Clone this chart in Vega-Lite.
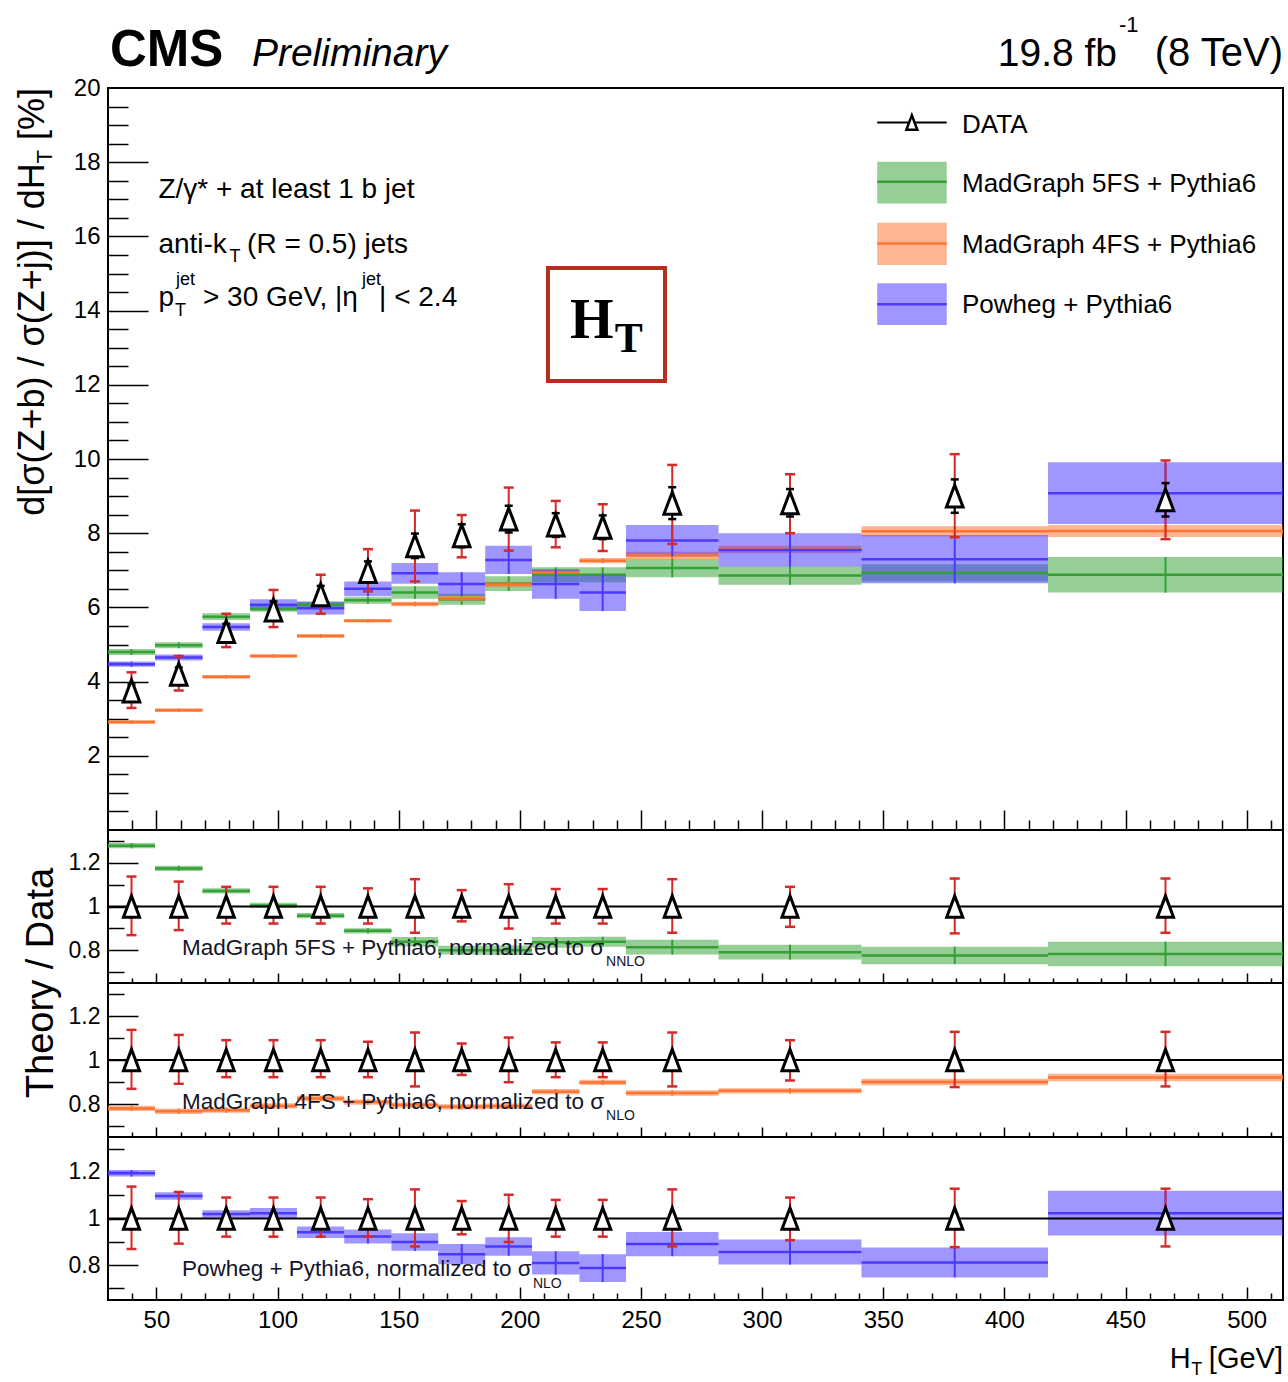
{
  "$schema": "https://vega.github.io/schema/vega-lite/v6.json",
  "background": "white",
  "padding": {"left": 14, "top": 13, "right": 4, "bottom": 2},
  "config": {
    "view": {"stroke": "black", "strokeWidth": 2},
    "axis": {"domain": false, "grid": false, "tickColor": "black", "tickWidth": 1.5, "labelFont": "Liberation Sans", "labelFontSize": 24, "labelColor": "black"}
  },
  "datasets": {
    "dat": [
      {"xc": 39.7, "v": 3.75, "lo": 3.29, "hi": 4.25, "slo": 3.58, "shi": 3.92},
      {"xc": 59.2, "v": 4.20, "lo": 3.76, "hi": 4.69, "slo": 4.02, "shi": 4.38},
      {"xc": 78.8, "v": 5.35, "lo": 4.93, "hi": 5.83, "slo": 5.14, "shi": 5.56},
      {"xc": 98.3, "v": 5.93, "lo": 5.47, "hi": 6.47, "slo": 5.70, "shi": 6.16},
      {"xc": 117.8, "v": 6.34, "lo": 5.83, "hi": 6.88, "slo": 6.10, "shi": 6.58},
      {"xc": 137.3, "v": 6.97, "lo": 6.43, "hi": 7.57, "slo": 6.70, "shi": 7.24},
      {"xc": 156.7, "v": 7.66, "lo": 6.70, "hi": 8.61, "slo": 7.33, "shi": 7.99},
      {"xc": 176.0, "v": 7.93, "lo": 7.35, "hi": 8.49, "slo": 7.62, "shi": 8.24},
      {"xc": 195.4, "v": 8.38, "lo": 7.53, "hi": 9.23, "slo": 8.02, "shi": 8.74},
      {"xc": 214.8, "v": 8.22, "lo": 7.62, "hi": 8.87, "slo": 7.90, "shi": 8.54},
      {"xc": 234.2, "v": 8.16, "lo": 7.52, "hi": 8.78, "slo": 7.84, "shi": 8.48},
      {"xc": 262.9, "v": 8.81, "lo": 7.71, "hi": 9.84, "slo": 8.38, "shi": 9.24},
      {"xc": 311.5, "v": 8.82, "lo": 8.00, "hi": 9.59, "slo": 8.45, "shi": 9.19},
      {"xc": 379.5, "v": 9.00, "lo": 7.89, "hi": 10.13, "slo": 8.55, "shi": 9.45},
      {"xc": 466.5, "v": 8.90, "lo": 7.84, "hi": 9.96, "slo": 8.45, "shi": 9.35}
    ],
    "rdat": [
      {"xc": 39.7, "v": 1, "lo": 0.869, "hi": 1.137, "slo": 0.953, "shi": 1.047},
      {"xc": 59.2, "v": 1, "lo": 0.892, "hi": 1.114, "slo": 0.957, "shi": 1.043},
      {"xc": 78.8, "v": 1, "lo": 0.922, "hi": 1.090, "slo": 0.961, "shi": 1.039},
      {"xc": 98.3, "v": 1, "lo": 0.922, "hi": 1.090, "slo": 0.961, "shi": 1.039},
      {"xc": 117.8, "v": 1, "lo": 0.922, "hi": 1.090, "slo": 0.962, "shi": 1.038},
      {"xc": 137.3, "v": 1, "lo": 0.922, "hi": 1.083, "slo": 0.961, "shi": 1.039},
      {"xc": 156.7, "v": 1, "lo": 0.880, "hi": 1.125, "slo": 0.957, "shi": 1.043},
      {"xc": 176.0, "v": 1, "lo": 0.932, "hi": 1.075, "slo": 0.961, "shi": 1.039},
      {"xc": 195.4, "v": 1, "lo": 0.899, "hi": 1.102, "slo": 0.957, "shi": 1.043},
      {"xc": 214.8, "v": 1, "lo": 0.922, "hi": 1.080, "slo": 0.961, "shi": 1.039},
      {"xc": 234.2, "v": 1, "lo": 0.922, "hi": 1.080, "slo": 0.961, "shi": 1.039},
      {"xc": 262.9, "v": 1, "lo": 0.880, "hi": 1.125, "slo": 0.951, "shi": 1.049},
      {"xc": 311.5, "v": 1, "lo": 0.907, "hi": 1.090, "slo": 0.958, "shi": 1.042},
      {"xc": 379.5, "v": 1, "lo": 0.877, "hi": 1.128, "slo": 0.950, "shi": 1.050},
      {"xc": 466.5, "v": 1, "lo": 0.880, "hi": 1.128, "slo": 0.949, "shi": 1.051}
    ],
    "mod": [
      {"m": "5FS", "x1": 30, "x2": 49.4, "xc": 39.7, "v": 4.80, "lo": 4.72, "hi": 4.88},
      {"m": "5FS", "x1": 49.4, "x2": 69, "xc": 59.2, "v": 4.98, "lo": 4.90, "hi": 5.06},
      {"m": "5FS", "x1": 69, "x2": 88.6, "xc": 78.8, "v": 5.75, "lo": 5.66, "hi": 5.84},
      {"m": "5FS", "x1": 88.6, "x2": 108, "xc": 98.3, "v": 5.96, "lo": 5.88, "hi": 6.04},
      {"m": "5FS", "x1": 108, "x2": 127.5, "xc": 117.8, "v": 6.07, "lo": 5.98, "hi": 6.16},
      {"m": "5FS", "x1": 127.5, "x2": 147, "xc": 137.3, "v": 6.19, "lo": 6.10, "hi": 6.28},
      {"m": "5FS", "x1": 147, "x2": 166.3, "xc": 156.7, "v": 6.40, "lo": 6.23, "hi": 6.57},
      {"m": "5FS", "x1": 166.3, "x2": 185.7, "xc": 176.0, "v": 6.22, "lo": 6.07, "hi": 6.37},
      {"m": "5FS", "x1": 185.7, "x2": 205, "xc": 195.4, "v": 6.64, "lo": 6.44, "hi": 6.84},
      {"m": "5FS", "x1": 205, "x2": 224.6, "xc": 214.8, "v": 6.88, "lo": 6.68, "hi": 7.08},
      {"m": "5FS", "x1": 224.6, "x2": 243.8, "xc": 234.2, "v": 6.88, "lo": 6.68, "hi": 7.08},
      {"m": "5FS", "x1": 243.8, "x2": 282, "xc": 262.9, "v": 7.06, "lo": 6.81, "hi": 7.31},
      {"m": "5FS", "x1": 282, "x2": 341, "xc": 311.5, "v": 6.86, "lo": 6.61, "hi": 7.11},
      {"m": "5FS", "x1": 341, "x2": 418, "xc": 379.5, "v": 6.93, "lo": 6.70, "hi": 7.16},
      {"m": "5FS", "x1": 418, "x2": 515, "xc": 466.5, "v": 6.88, "lo": 6.40, "hi": 7.36},
      {"m": "4FS", "x1": 30, "x2": 49.4, "xc": 39.7, "v": 2.91, "lo": 2.86, "hi": 2.96},
      {"m": "4FS", "x1": 49.4, "x2": 69, "xc": 59.2, "v": 3.23, "lo": 3.18, "hi": 3.28},
      {"m": "4FS", "x1": 69, "x2": 88.6, "xc": 78.8, "v": 4.13, "lo": 4.08, "hi": 4.18},
      {"m": "4FS", "x1": 88.6, "x2": 108, "xc": 98.3, "v": 4.69, "lo": 4.64, "hi": 4.74},
      {"m": "4FS", "x1": 108, "x2": 127.5, "xc": 117.8, "v": 5.23, "lo": 5.18, "hi": 5.28},
      {"m": "4FS", "x1": 127.5, "x2": 147, "xc": 137.3, "v": 5.64, "lo": 5.59, "hi": 5.69},
      {"m": "4FS", "x1": 147, "x2": 166.3, "xc": 156.7, "v": 6.09, "lo": 6.03, "hi": 6.15},
      {"m": "4FS", "x1": 166.3, "x2": 185.7, "xc": 176.0, "v": 6.24, "lo": 6.17, "hi": 6.31},
      {"m": "4FS", "x1": 185.7, "x2": 205, "xc": 195.4, "v": 6.62, "lo": 6.55, "hi": 6.69},
      {"m": "4FS", "x1": 205, "x2": 224.6, "xc": 214.8, "v": 6.94, "lo": 6.86, "hi": 7.02},
      {"m": "4FS", "x1": 224.6, "x2": 243.8, "xc": 234.2, "v": 7.26, "lo": 7.19, "hi": 7.33},
      {"m": "4FS", "x1": 243.8, "x2": 282, "xc": 262.9, "v": 7.40, "lo": 7.30, "hi": 7.50},
      {"m": "4FS", "x1": 282, "x2": 341, "xc": 311.5, "v": 7.56, "lo": 7.46, "hi": 7.66},
      {"m": "4FS", "x1": 341, "x2": 418, "xc": 379.5, "v": 8.05, "lo": 7.91, "hi": 8.19},
      {"m": "4FS", "x1": 418, "x2": 515, "xc": 466.5, "v": 8.06, "lo": 7.90, "hi": 8.22},
      {"m": "Powheg", "x1": 30, "x2": 49.4, "xc": 39.7, "v": 4.47, "lo": 4.40, "hi": 4.54},
      {"m": "Powheg", "x1": 49.4, "x2": 69, "xc": 59.2, "v": 4.65, "lo": 4.57, "hi": 4.73},
      {"m": "Powheg", "x1": 69, "x2": 88.6, "xc": 78.8, "v": 5.47, "lo": 5.37, "hi": 5.57},
      {"m": "Powheg", "x1": 88.6, "x2": 108, "xc": 98.3, "v": 6.07, "lo": 5.92, "hi": 6.22},
      {"m": "Powheg", "x1": 108, "x2": 127.5, "xc": 117.8, "v": 5.98, "lo": 5.81, "hi": 6.15},
      {"m": "Powheg", "x1": 127.5, "x2": 147, "xc": 137.3, "v": 6.50, "lo": 6.30, "hi": 6.70},
      {"m": "Powheg", "x1": 147, "x2": 166.3, "xc": 156.7, "v": 6.92, "lo": 6.64, "hi": 7.20},
      {"m": "Powheg", "x1": 166.3, "x2": 185.7, "xc": 176.0, "v": 6.63, "lo": 6.31, "hi": 6.95},
      {"m": "Powheg", "x1": 185.7, "x2": 205, "xc": 195.4, "v": 7.28, "lo": 6.90, "hi": 7.66},
      {"m": "Powheg", "x1": 205, "x2": 224.6, "xc": 214.8, "v": 6.63, "lo": 6.23, "hi": 7.03},
      {"m": "Powheg", "x1": 224.6, "x2": 243.8, "xc": 234.2, "v": 6.40, "lo": 5.90, "hi": 6.90},
      {"m": "Powheg", "x1": 243.8, "x2": 282, "xc": 262.9, "v": 7.80, "lo": 7.38, "hi": 8.22},
      {"m": "Powheg", "x1": 282, "x2": 341, "xc": 311.5, "v": 7.55, "lo": 7.10, "hi": 8.00},
      {"m": "Powheg", "x1": 341, "x2": 418, "xc": 379.5, "v": 7.30, "lo": 6.65, "hi": 7.95},
      {"m": "Powheg", "x1": 418, "x2": 515, "xc": 466.5, "v": 9.08, "lo": 8.25, "hi": 9.91}
    ],
    "rmod": [
      {"m": "5FS", "x1": 30, "x2": 49.4, "xc": 39.7, "v": 1.278, "lo": 1.266, "hi": 1.290},
      {"m": "5FS", "x1": 49.4, "x2": 69, "xc": 59.2, "v": 1.174, "lo": 1.162, "hi": 1.186},
      {"m": "5FS", "x1": 69, "x2": 88.6, "xc": 78.8, "v": 1.071, "lo": 1.059, "hi": 1.083},
      {"m": "5FS", "x1": 88.6, "x2": 108, "xc": 98.3, "v": 1.005, "lo": 0.993, "hi": 1.017},
      {"m": "5FS", "x1": 108, "x2": 127.5, "xc": 117.8, "v": 0.958, "lo": 0.946, "hi": 0.970},
      {"m": "5FS", "x1": 127.5, "x2": 147, "xc": 137.3, "v": 0.889, "lo": 0.877, "hi": 0.901},
      {"m": "5FS", "x1": 147, "x2": 166.3, "xc": 156.7, "v": 0.839, "lo": 0.817, "hi": 0.861},
      {"m": "5FS", "x1": 166.3, "x2": 185.7, "xc": 176.0, "v": 0.800, "lo": 0.780, "hi": 0.820},
      {"m": "5FS", "x1": 185.7, "x2": 205, "xc": 195.4, "v": 0.800, "lo": 0.778, "hi": 0.822},
      {"m": "5FS", "x1": 205, "x2": 224.6, "xc": 214.8, "v": 0.836, "lo": 0.811, "hi": 0.861},
      {"m": "5FS", "x1": 224.6, "x2": 243.8, "xc": 234.2, "v": 0.839, "lo": 0.816, "hi": 0.862},
      {"m": "5FS", "x1": 243.8, "x2": 282, "xc": 262.9, "v": 0.814, "lo": 0.780, "hi": 0.848},
      {"m": "5FS", "x1": 282, "x2": 341, "xc": 311.5, "v": 0.791, "lo": 0.757, "hi": 0.825},
      {"m": "5FS", "x1": 341, "x2": 418, "xc": 379.5, "v": 0.776, "lo": 0.736, "hi": 0.816},
      {"m": "5FS", "x1": 418, "x2": 515, "xc": 466.5, "v": 0.783, "lo": 0.727, "hi": 0.839},
      {"m": "4FS", "x1": 30, "x2": 49.4, "xc": 39.7, "v": 0.780, "lo": 0.768, "hi": 0.792},
      {"m": "4FS", "x1": 49.4, "x2": 69, "xc": 59.2, "v": 0.767, "lo": 0.755, "hi": 0.779},
      {"m": "4FS", "x1": 69, "x2": 88.6, "xc": 78.8, "v": 0.772, "lo": 0.760, "hi": 0.784},
      {"m": "4FS", "x1": 88.6, "x2": 108, "xc": 98.3, "v": 0.791, "lo": 0.779, "hi": 0.803},
      {"m": "4FS", "x1": 108, "x2": 127.5, "xc": 117.8, "v": 0.825, "lo": 0.813, "hi": 0.837},
      {"m": "4FS", "x1": 127.5, "x2": 147, "xc": 137.3, "v": 0.809, "lo": 0.797, "hi": 0.821},
      {"m": "4FS", "x1": 147, "x2": 166.3, "xc": 156.7, "v": 0.795, "lo": 0.783, "hi": 0.807},
      {"m": "4FS", "x1": 166.3, "x2": 185.7, "xc": 176.0, "v": 0.787, "lo": 0.775, "hi": 0.799},
      {"m": "4FS", "x1": 185.7, "x2": 205, "xc": 195.4, "v": 0.790, "lo": 0.778, "hi": 0.802},
      {"m": "4FS", "x1": 205, "x2": 224.6, "xc": 214.8, "v": 0.856, "lo": 0.844, "hi": 0.868},
      {"m": "4FS", "x1": 224.6, "x2": 243.8, "xc": 234.2, "v": 0.898, "lo": 0.886, "hi": 0.910},
      {"m": "4FS", "x1": 243.8, "x2": 282, "xc": 262.9, "v": 0.850, "lo": 0.838, "hi": 0.862},
      {"m": "4FS", "x1": 282, "x2": 341, "xc": 311.5, "v": 0.860, "lo": 0.848, "hi": 0.872},
      {"m": "4FS", "x1": 341, "x2": 418, "xc": 379.5, "v": 0.900, "lo": 0.885, "hi": 0.915},
      {"m": "4FS", "x1": 418, "x2": 515, "xc": 466.5, "v": 0.920, "lo": 0.903, "hi": 0.937},
      {"m": "Powheg", "x1": 30, "x2": 49.4, "xc": 39.7, "v": 1.194, "lo": 1.180, "hi": 1.208},
      {"m": "Powheg", "x1": 49.4, "x2": 69, "xc": 59.2, "v": 1.097, "lo": 1.081, "hi": 1.113},
      {"m": "Powheg", "x1": 69, "x2": 88.6, "xc": 78.8, "v": 1.019, "lo": 1.003, "hi": 1.035},
      {"m": "Powheg", "x1": 88.6, "x2": 108, "xc": 98.3, "v": 1.023, "lo": 1.001, "hi": 1.045},
      {"m": "Powheg", "x1": 108, "x2": 127.5, "xc": 117.8, "v": 0.941, "lo": 0.916, "hi": 0.966},
      {"m": "Powheg", "x1": 127.5, "x2": 147, "xc": 137.3, "v": 0.923, "lo": 0.893, "hi": 0.953},
      {"m": "Powheg", "x1": 147, "x2": 166.3, "xc": 156.7, "v": 0.899, "lo": 0.861, "hi": 0.937},
      {"m": "Powheg", "x1": 166.3, "x2": 185.7, "xc": 176.0, "v": 0.847, "lo": 0.804, "hi": 0.890},
      {"m": "Powheg", "x1": 185.7, "x2": 205, "xc": 195.4, "v": 0.880, "lo": 0.840, "hi": 0.920},
      {"m": "Powheg", "x1": 205, "x2": 224.6, "xc": 214.8, "v": 0.809, "lo": 0.759, "hi": 0.859},
      {"m": "Powheg", "x1": 224.6, "x2": 243.8, "xc": 234.2, "v": 0.787, "lo": 0.727, "hi": 0.847},
      {"m": "Powheg", "x1": 243.8, "x2": 282, "xc": 262.9, "v": 0.890, "lo": 0.838, "hi": 0.942},
      {"m": "Powheg", "x1": 282, "x2": 341, "xc": 311.5, "v": 0.856, "lo": 0.802, "hi": 0.910},
      {"m": "Powheg", "x1": 341, "x2": 418, "xc": 379.5, "v": 0.811, "lo": 0.747, "hi": 0.875},
      {"m": "Powheg", "x1": 418, "x2": 515, "xc": 466.5, "v": 1.023, "lo": 0.927, "hi": 1.119}
    ]
  },
  "vconcat": [
    {
      "width": 1175,
      "height": 742,
      "resolve": {"axis": {"x": "independent", "y": "independent"}},
      "layer": [
        {
          "data": {"name": "mod"},
          "mark": {"type": "rect", "opacity": 0.5},
          "encoding": {
            "x": {"field": "x1", "type": "quantitative", "scale": {"domain": [30, 515], "nice": false, "zero": false},
                  "axis": {"orient": "bottom", "title": null, "values": [50, 100, 150, 200, 250, 300, 350, 400, 450, 500], "labels": false, "tickSize": -20}},
            "x2": {"field": "x2"},
            "y": {"field": "lo", "type": "quantitative", "scale": {"domain": [0, 20], "nice": false, "zero": false},
                  "axis": {"orient": "left", "title": null, "values": [2, 4, 6, 8, 10, 12, 14, 16, 18, 20], "ticks": false, "tickSize": 0, "labelPadding": 8}},
            "y2": {"field": "hi"},
            "fill": {"field": "m", "type": "nominal", "scale": {"domain": ["5FS", "4FS", "Powheg"], "range": ["#2ca02c", "#ff6a28", "#4030ff"]}, "legend": null}
          }
        },
        {
          "data": {"name": "mod"},
          "mark": {"type": "rule", "strokeWidth": 2.5},
          "encoding": {
            "x": {"field": "x1", "type": "quantitative",
                  "axis": {"orient": "bottom", "title": null, "values": [40, 60, 70, 80, 90, 110, 120, 130, 140, 160, 170, 180, 190, 210, 220, 230, 240, 260, 270, 280, 290, 310, 320, 330, 340, 360, 370, 380, 390, 410, 420, 430, 440, 460, 470, 480, 490, 510], "labels": false, "tickSize": -10}},
            "x2": {"field": "x2"},
            "y": {"field": "v", "type": "quantitative",
                  "axis": {"orient": "left", "title": null, "values": [2, 4, 6, 8, 10, 12, 14, 16, 18], "labels": false, "tickSize": -40}},
            "stroke": {"field": "m", "type": "nominal", "scale": {"domain": ["5FS", "4FS", "Powheg"], "range": ["#35a035", "#ff7430", "#4a3aff"]}, "legend": null}
          }
        },
        {
          "data": {"name": "mod"},
          "mark": {"type": "rule", "strokeWidth": 2},
          "encoding": {
            "x": {"field": "xc", "type": "quantitative", "axis": null},
            "y": {"field": "lo", "type": "quantitative",
                  "axis": {"orient": "left", "title": null, "values": [0.5, 1, 1.5, 2.5, 3, 3.5, 4.5, 5, 5.5, 6.5, 7, 7.5, 8.5, 9, 9.5, 10.5, 11, 11.5, 12.5, 13, 13.5, 14.5, 15, 15.5, 16.5, 17, 17.5, 18.5, 19, 19.5], "labels": false, "tickSize": -20}},
            "y2": {"field": "hi"},
            "stroke": {"field": "m", "type": "nominal", "legend": null}
          }
        },
        {
          "data": {"name": "dat"},
          "mark": {"type": "rule", "color": "#d42a2a", "strokeWidth": 2},
          "encoding": {
            "x": {"field": "xc", "type": "quantitative", "axis": null},
            "y": {"field": "lo", "type": "quantitative", "axis": null},
            "y2": {"field": "hi"}
          }
        },
        {
          "data": {"name": "dat"},
          "transform": [{"fold": ["lo", "hi"], "as": ["end", "val"]}],
          "mark": {"type": "tick", "orient": "horizontal", "color": "#d42a2a", "opacity": 1, "size": 10, "thickness": 2.5},
          "encoding": {
            "x": {"field": "xc", "type": "quantitative", "axis": null},
            "y": {"field": "val", "type": "quantitative", "axis": null}
          }
        },
        {
          "data": {"name": "dat"},
          "mark": {"type": "rule", "color": "black", "strokeWidth": 2},
          "encoding": {
            "x": {"field": "xc", "type": "quantitative", "axis": null},
            "y": {"field": "slo", "type": "quantitative", "axis": null},
            "y2": {"field": "shi"}
          }
        },
        {
          "data": {"name": "dat"},
          "transform": [{"fold": ["slo", "shi"], "as": ["end", "val"]}],
          "mark": {"type": "tick", "orient": "horizontal", "color": "black", "opacity": 1, "size": 8, "thickness": 2.5},
          "encoding": {
            "x": {"field": "xc", "type": "quantitative", "axis": null},
            "y": {"field": "val", "type": "quantitative", "axis": null}
          }
        },
        {
          "data": {"name": "dat"},
          "mark": {"type": "point", "shape": "M0,-0.9L0.68,0.9L-0.68,0.9Z", "size": 600, "filled": true, "fill": "white", "stroke": "black", "strokeWidth": 3, "opacity": 1},
          "encoding": {
            "x": {"field": "xc", "type": "quantitative", "axis": null},
            "y": {"field": "v", "type": "quantitative", "axis": null}
          }
        },
        {
          "data": {"values": [{}]},
          "mark": {"type": "text", "text": "CMS", "font": "Liberation Sans", "fontWeight": "bold", "fontSize": 51, "align": "left", "baseline": "alphabetic"},
          "encoding": {"x": {"datum": 30.8, "type": "quantitative", "axis": null}, "y": {"datum": 20.59, "type": "quantitative", "axis": null}}
        },
        {
          "data": {"values": [{}]},
          "mark": {"type": "text", "text": "Preliminary", "font": "Liberation Sans", "fontStyle": "italic", "fontSize": 39, "align": "left", "baseline": "alphabetic"},
          "encoding": {"x": {"datum": 89.4, "type": "quantitative", "axis": null}, "y": {"datum": 20.59, "type": "quantitative", "axis": null}}
        },
        {
          "data": {"values": [{}]},
          "mark": {"type": "text", "text": "19.8 fb", "font": "Liberation Sans", "fontSize": 39, "align": "right", "baseline": "alphabetic"},
          "encoding": {"x": {"datum": 446.5, "type": "quantitative", "axis": null}, "y": {"datum": 20.59, "type": "quantitative", "axis": null}}
        },
        {
          "data": {"values": [{}]},
          "mark": {"type": "text", "text": "-1", "font": "Liberation Sans", "fontSize": 22, "align": "left", "baseline": "alphabetic"},
          "encoding": {"x": {"datum": 447.3, "type": "quantitative", "axis": null}, "y": {"datum": 21.5, "type": "quantitative", "axis": null}}
        },
        {
          "data": {"values": [{}]},
          "mark": {"type": "text", "text": "(8 TeV)", "font": "Liberation Sans", "fontSize": 40, "align": "right", "baseline": "alphabetic"},
          "encoding": {"x": {"datum": 515, "type": "quantitative", "axis": null}, "y": {"datum": 20.59, "type": "quantitative", "axis": null}}
        },
        {
          "data": {"values": [{}]},
          "mark": {"type": "text", "text": "Z/γ* + at least 1 b jet", "font": "Liberation Sans", "fontSize": 28, "align": "left", "baseline": "alphabetic"},
          "encoding": {"x": {"datum": 50.8, "type": "quantitative", "axis": null}, "y": {"datum": 17.03, "type": "quantitative", "axis": null}}
        },
        {
          "data": {"values": [{}]},
          "mark": {"type": "text", "text": "anti-k", "font": "Liberation Sans", "fontSize": 28, "align": "left", "baseline": "alphabetic"},
          "encoding": {"x": {"datum": 50.8, "type": "quantitative", "axis": null}, "y": {"datum": 15.55, "type": "quantitative", "axis": null}}
        },
        {
          "data": {"values": [{}]},
          "mark": {"type": "text", "text": "T", "font": "Liberation Sans", "fontSize": 18, "align": "left", "baseline": "alphabetic"},
          "encoding": {"x": {"datum": 80.2, "type": "quantitative", "axis": null}, "y": {"datum": 15.31, "type": "quantitative", "axis": null}}
        },
        {
          "data": {"values": [{}]},
          "mark": {"type": "text", "text": "(R = 0.5) jets", "font": "Liberation Sans", "fontSize": 28, "align": "left", "baseline": "alphabetic"},
          "encoding": {"x": {"datum": 87.4, "type": "quantitative", "axis": null}, "y": {"datum": 15.55, "type": "quantitative", "axis": null}}
        },
        {
          "data": {"values": [{}]},
          "mark": {"type": "text", "text": "p", "font": "Liberation Sans", "fontSize": 28, "align": "left", "baseline": "alphabetic"},
          "encoding": {"x": {"datum": 50.8, "type": "quantitative", "axis": null}, "y": {"datum": 14.12, "type": "quantitative", "axis": null}}
        },
        {
          "data": {"values": [{}]},
          "mark": {"type": "text", "text": "jet", "font": "Liberation Sans", "fontSize": 18, "align": "left", "baseline": "alphabetic"},
          "encoding": {"x": {"datum": 58.1, "type": "quantitative", "axis": null}, "y": {"datum": 14.69, "type": "quantitative", "axis": null}}
        },
        {
          "data": {"values": [{}]},
          "mark": {"type": "text", "text": "T", "font": "Liberation Sans", "fontSize": 18, "align": "left", "baseline": "alphabetic"},
          "encoding": {"x": {"datum": 57.7, "type": "quantitative", "axis": null}, "y": {"datum": 13.85, "type": "quantitative", "axis": null}}
        },
        {
          "data": {"values": [{}]},
          "mark": {"type": "text", "text": "> 30 GeV, |η", "font": "Liberation Sans", "fontSize": 28, "align": "left", "baseline": "alphabetic"},
          "encoding": {"x": {"datum": 69.2, "type": "quantitative", "axis": null}, "y": {"datum": 14.12, "type": "quantitative", "axis": null}}
        },
        {
          "data": {"values": [{}]},
          "mark": {"type": "text", "text": "jet", "font": "Liberation Sans", "fontSize": 18, "align": "left", "baseline": "alphabetic"},
          "encoding": {"x": {"datum": 134.8, "type": "quantitative", "axis": null}, "y": {"datum": 14.69, "type": "quantitative", "axis": null}}
        },
        {
          "data": {"values": [{}]},
          "mark": {"type": "text", "text": "| < 2.4", "font": "Liberation Sans", "fontSize": 28, "align": "left", "baseline": "alphabetic"},
          "encoding": {"x": {"datum": 141.9, "type": "quantitative", "axis": null}, "y": {"datum": 14.12, "type": "quantitative", "axis": null}}
        },
        {
          "data": {"values": [{}]},
          "mark": {"type": "rect", "opacity": 0.5},
          "encoding": {"x": {"datum": 347.5, "type": "quantitative", "axis": null}, "x2": {"datum": 376.2}, "y": {"datum": 16.89, "type": "quantitative", "axis": null}, "y2": {"datum": 18.01}, "fill": {"datum": "5FS", "legend": null}}
        },
        {
          "data": {"values": [{}]},
          "mark": {"type": "rect", "opacity": 0.5},
          "encoding": {"x": {"datum": 347.5, "type": "quantitative", "axis": null}, "x2": {"datum": 376.2}, "y": {"datum": 15.23, "type": "quantitative", "axis": null}, "y2": {"datum": 16.37}, "fill": {"datum": "4FS", "legend": null}}
        },
        {
          "data": {"values": [{}]},
          "mark": {"type": "rect", "opacity": 0.5},
          "encoding": {"x": {"datum": 347.5, "type": "quantitative", "axis": null}, "x2": {"datum": 376.2}, "y": {"datum": 13.61, "type": "quantitative", "axis": null}, "y2": {"datum": 14.74}, "fill": {"datum": "Powheg", "legend": null}}
        },
        {
          "data": {"values": [{}]},
          "mark": {"type": "rule", "strokeWidth": 2.5},
          "encoding": {"x": {"datum": 347.5, "type": "quantitative", "axis": null}, "x2": {"datum": 376.2}, "y": {"datum": 17.47, "type": "quantitative", "axis": null}, "stroke": {"datum": "5FS", "legend": null}}
        },
        {
          "data": {"values": [{}]},
          "mark": {"type": "rule", "strokeWidth": 2.5},
          "encoding": {"x": {"datum": 347.5, "type": "quantitative", "axis": null}, "x2": {"datum": 376.2}, "y": {"datum": 15.81, "type": "quantitative", "axis": null}, "stroke": {"datum": "4FS", "legend": null}}
        },
        {
          "data": {"values": [{}]},
          "mark": {"type": "rule", "strokeWidth": 2.5},
          "encoding": {"x": {"datum": 347.5, "type": "quantitative", "axis": null}, "x2": {"datum": 376.2}, "y": {"datum": 14.17, "type": "quantitative", "axis": null}, "stroke": {"datum": "Powheg", "legend": null}}
        },
        {
          "data": {"values": [{}]},
          "mark": {"type": "rule", "color": "black", "strokeWidth": 2},
          "encoding": {"x": {"datum": 347.5, "type": "quantitative", "axis": null}, "x2": {"datum": 376.2}, "y": {"datum": 19.07, "type": "quantitative", "axis": null}}
        },
        {
          "data": {"values": [{}]},
          "mark": {"type": "point", "shape": "M0,-0.9L0.68,0.9L-0.68,0.9Z", "size": 260, "filled": true, "fill": "white", "stroke": "black", "strokeWidth": 2.5, "opacity": 1},
          "encoding": {"x": {"datum": 361.8, "type": "quantitative", "axis": null}, "y": {"datum": 19.07, "type": "quantitative", "axis": null}}
        },
        {
          "data": {"values": [{}]},
          "mark": {"type": "text", "text": "DATA", "font": "Liberation Sans", "fontSize": 26, "align": "left", "baseline": "alphabetic"},
          "encoding": {"x": {"datum": 382.5, "type": "quantitative", "axis": null}, "y": {"datum": 18.79, "type": "quantitative", "axis": null}}
        },
        {
          "data": {"values": [{}]},
          "mark": {"type": "text", "text": "MadGraph 5FS + Pythia6", "font": "Liberation Sans", "fontSize": 26, "align": "left", "baseline": "alphabetic"},
          "encoding": {"x": {"datum": 382.5, "type": "quantitative", "axis": null}, "y": {"datum": 17.20, "type": "quantitative", "axis": null}}
        },
        {
          "data": {"values": [{}]},
          "mark": {"type": "text", "text": "MadGraph 4FS + Pythia6", "font": "Liberation Sans", "fontSize": 26, "align": "left", "baseline": "alphabetic"},
          "encoding": {"x": {"datum": 382.5, "type": "quantitative", "axis": null}, "y": {"datum": 15.55, "type": "quantitative", "axis": null}}
        },
        {
          "data": {"values": [{}]},
          "mark": {"type": "text", "text": "Powheg + Pythia6", "font": "Liberation Sans", "fontSize": 26, "align": "left", "baseline": "alphabetic"},
          "encoding": {"x": {"datum": 382.5, "type": "quantitative", "axis": null}, "y": {"datum": 13.93, "type": "quantitative", "axis": null}}
        },
        {
          "data": {"values": [{}]},
          "mark": {"type": "rect", "fillOpacity": 0, "stroke": "#b52d1f", "strokeWidth": 4},
          "encoding": {"x": {"datum": 211.6, "type": "quantitative", "axis": null}, "x2": {"datum": 259.9}, "y": {"datum": 12.10, "type": "quantitative", "axis": null}, "y2": {"datum": 15.15}}
        },
        {
          "data": {"values": [{}]},
          "mark": {"type": "text", "text": "H", "font": "Liberation Serif", "fontWeight": "bold", "fontSize": 56, "align": "left", "baseline": "alphabetic"},
          "encoding": {"x": {"datum": 220.7, "type": "quantitative", "axis": null}, "y": {"datum": 13.26, "type": "quantitative", "axis": null}}
        },
        {
          "data": {"values": [{}]},
          "mark": {"type": "text", "text": "T", "font": "Liberation Serif", "fontWeight": "bold", "fontSize": 42, "align": "left", "baseline": "alphabetic"},
          "encoding": {"x": {"datum": 239.2, "type": "quantitative", "axis": null}, "y": {"datum": 12.88, "type": "quantitative", "axis": null}}
        },
        {
          "data": {"values": [{}]},
          "mark": {"type": "text", "text": "d[σ(Z+b) / σ(Z+j)] / dH", "font": "Liberation Sans", "fontSize": 36, "angle": 270, "align": "right", "baseline": "alphabetic"},
          "encoding": {"x": {"datum": 3.6, "type": "quantitative", "axis": null}, "y": {"datum": 17.97, "type": "quantitative", "axis": null}}
        },
        {
          "data": {"values": [{}]},
          "mark": {"type": "text", "text": "T", "font": "Liberation Sans", "fontSize": 22, "angle": 270, "align": "right", "baseline": "alphabetic"},
          "encoding": {"x": {"datum": 6.9, "type": "quantitative", "axis": null}, "y": {"datum": 18.33, "type": "quantitative", "axis": null}}
        },
        {
          "data": {"values": [{}]},
          "mark": {"type": "text", "text": "[%]", "font": "Liberation Sans", "fontSize": 36, "angle": 270, "align": "right", "baseline": "alphabetic"},
          "encoding": {"x": {"datum": 3.6, "type": "quantitative", "axis": null}, "y": {"datum": 20, "type": "quantitative", "axis": null}}
        }
      ]
    },
    {
      "width": 1175,
      "height": 153,
      "resolve": {"axis": {"x": "independent", "y": "independent"}},
      "layer": [
        {
          "data": {"name": "rmod"},
          "transform": [{"filter": "datum.m == '5FS'"}],
          "mark": {"type": "rect", "opacity": 0.5},
          "encoding": {
            "x": {"field": "x1", "type": "quantitative", "scale": {"domain": [30, 515], "nice": false, "zero": false},
                  "axis": {"orient": "bottom", "title": null, "values": [50, 100, 150, 200, 250, 300, 350, 400, 450, 500], "labels": false, "tickSize": -10}},
            "x2": {"field": "x2"},
            "y": {"field": "lo", "type": "quantitative", "scale": {"domain": [0.65, 1.35], "nice": false, "zero": false},
                  "axis": {"orient": "left", "title": null, "values": [0.8, 1, 1.2], "format": "~g", "ticks": false, "tickSize": 0, "labelPadding": 8, "labelFontSize": 23}},
            "y2": {"field": "hi"},
            "fill": {"field": "m", "type": "nominal", "legend": null}
          }
        },
        {
          "data": {"name": "rmod"},
          "transform": [{"filter": "datum.m == '5FS'"}],
          "mark": {"type": "rule", "strokeWidth": 2.5},
          "encoding": {
            "x": {"field": "x1", "type": "quantitative",
                  "axis": {"orient": "bottom", "title": null, "values": [40, 60, 70, 80, 90, 110, 120, 130, 140, 160, 170, 180, 190, 210, 220, 230, 240, 260, 270, 280, 290, 310, 320, 330, 340, 360, 370, 380, 390, 410, 420, 430, 440, 460, 470, 480, 490, 510], "labels": false, "tickSize": -5}},
            "x2": {"field": "x2"},
            "y": {"field": "v", "type": "quantitative", "axis": {"orient": "left", "title": null, "values": [0.8, 1, 1.2], "labels": false, "tickSize": -30}},
            "stroke": {"field": "m", "type": "nominal", "legend": null}
          }
        },
        {
          "data": {"name": "rmod"},
          "transform": [{"filter": "datum.m == '5FS'"}],
          "mark": {"type": "rule", "strokeWidth": 2},
          "encoding": {
            "x": {"field": "xc", "type": "quantitative", "axis": null},
            "y": {"field": "lo", "type": "quantitative", "axis": {"orient": "left", "title": null, "values": [0.7, 0.9, 1.1, 1.3], "labels": false, "tickSize": -16}},
            "y2": {"field": "hi"},
            "stroke": {"field": "m", "type": "nominal", "legend": null}
          }
        },
        {
          "data": {"values": [{}]},
          "mark": {"type": "rule", "color": "black", "strokeWidth": 2},
          "encoding": {"y": {"datum": 1, "type": "quantitative", "axis": null}}
        },
        {
          "data": {"name": "rdat"},
          "mark": {"type": "rule", "color": "#d42a2a", "strokeWidth": 2},
          "encoding": {"x": {"field": "xc", "type": "quantitative", "axis": null}, "y": {"field": "lo", "type": "quantitative", "axis": null}, "y2": {"field": "hi"}}
        },
        {
          "data": {"name": "rdat"},
          "transform": [{"fold": ["lo", "hi"], "as": ["end", "val"]}],
          "mark": {"type": "tick", "orient": "horizontal", "color": "#d42a2a", "opacity": 1, "size": 10, "thickness": 2.5},
          "encoding": {"x": {"field": "xc", "type": "quantitative", "axis": null}, "y": {"field": "val", "type": "quantitative", "axis": null}}
        },
        {
          "data": {"name": "rdat"},
          "mark": {"type": "rule", "color": "black", "strokeWidth": 2},
          "encoding": {"x": {"field": "xc", "type": "quantitative", "axis": null}, "y": {"field": "slo", "type": "quantitative", "axis": null}, "y2": {"field": "shi"}}
        },
        {
          "data": {"name": "rdat"},
          "mark": {"type": "point", "shape": "M0,-0.9L0.68,0.9L-0.68,0.9Z", "size": 560, "filled": true, "fill": "white", "stroke": "black", "strokeWidth": 3, "opacity": 1},
          "encoding": {"x": {"field": "xc", "type": "quantitative", "axis": null}, "y": {"field": "v", "type": "quantitative", "axis": null}}
        },
        {
          "data": {"values": [{}]},
          "mark": {"type": "text", "text": "MadGraph 5FS + Pythia6, normalized to σ", "font": "Liberation Sans", "fontSize": 22.5, "color": "#15152a", "align": "left", "baseline": "alphabetic"},
          "encoding": {"x": {"datum": 60.5, "type": "quantitative", "axis": null}, "y": {"datum": 0.778, "type": "quantitative", "axis": null}}
        },
        {
          "data": {"values": [{}]},
          "mark": {"type": "text", "text": "NNLO", "font": "Liberation Sans", "fontSize": 14, "color": "#15152a", "align": "left", "baseline": "alphabetic"},
          "encoding": {"x": {"datum": 235.6, "type": "quantitative", "axis": null}, "y": {"datum": 0.728, "type": "quantitative", "axis": null}}
        },
        {
          "data": {"values": [{}]},
          "mark": {"type": "text", "text": "Theory / Data", "font": "Liberation Sans", "fontSize": 38, "angle": 270, "align": "center", "baseline": "alphabetic"},
          "encoding": {"x": {"datum": 7.3, "type": "quantitative", "axis": null}, "y": {"datum": 0.65, "type": "quantitative", "axis": null}}
        }
      ]
    },
    {
      "width": 1175,
      "height": 154,
      "resolve": {"axis": {"x": "independent", "y": "independent"}},
      "layer": [
        {
          "data": {"name": "rmod"},
          "transform": [{"filter": "datum.m == '4FS'"}],
          "mark": {"type": "rect", "opacity": 0.5},
          "encoding": {
            "x": {"field": "x1", "type": "quantitative", "scale": {"domain": [30, 515], "nice": false, "zero": false},
                  "axis": {"orient": "bottom", "title": null, "values": [50, 100, 150, 200, 250, 300, 350, 400, 450, 500], "labels": false, "tickSize": -10}},
            "x2": {"field": "x2"},
            "y": {"field": "lo", "type": "quantitative", "scale": {"domain": [0.65, 1.35], "nice": false, "zero": false},
                  "axis": {"orient": "left", "title": null, "values": [0.8, 1, 1.2], "format": "~g", "ticks": false, "tickSize": 0, "labelPadding": 8, "labelFontSize": 23}},
            "y2": {"field": "hi"},
            "fill": {"field": "m", "type": "nominal", "legend": null}
          }
        },
        {
          "data": {"name": "rmod"},
          "transform": [{"filter": "datum.m == '4FS'"}],
          "mark": {"type": "rule", "strokeWidth": 2.5},
          "encoding": {
            "x": {"field": "x1", "type": "quantitative",
                  "axis": {"orient": "bottom", "title": null, "values": [40, 60, 70, 80, 90, 110, 120, 130, 140, 160, 170, 180, 190, 210, 220, 230, 240, 260, 270, 280, 290, 310, 320, 330, 340, 360, 370, 380, 390, 410, 420, 430, 440, 460, 470, 480, 490, 510], "labels": false, "tickSize": -5}},
            "x2": {"field": "x2"},
            "y": {"field": "v", "type": "quantitative", "axis": {"orient": "left", "title": null, "values": [0.8, 1, 1.2], "labels": false, "tickSize": -30}},
            "stroke": {"field": "m", "type": "nominal", "legend": null}
          }
        },
        {
          "data": {"name": "rmod"},
          "transform": [{"filter": "datum.m == '4FS'"}],
          "mark": {"type": "rule", "strokeWidth": 2},
          "encoding": {
            "x": {"field": "xc", "type": "quantitative", "axis": null},
            "y": {"field": "lo", "type": "quantitative", "axis": {"orient": "left", "title": null, "values": [0.7, 0.9, 1.1, 1.3], "labels": false, "tickSize": -16}},
            "y2": {"field": "hi"},
            "stroke": {"field": "m", "type": "nominal", "legend": null}
          }
        },
        {
          "data": {"values": [{}]},
          "mark": {"type": "rule", "color": "black", "strokeWidth": 2},
          "encoding": {"y": {"datum": 1, "type": "quantitative", "axis": null}}
        },
        {
          "data": {"name": "rdat"},
          "mark": {"type": "rule", "color": "#d42a2a", "strokeWidth": 2},
          "encoding": {"x": {"field": "xc", "type": "quantitative", "axis": null}, "y": {"field": "lo", "type": "quantitative", "axis": null}, "y2": {"field": "hi"}}
        },
        {
          "data": {"name": "rdat"},
          "transform": [{"fold": ["lo", "hi"], "as": ["end", "val"]}],
          "mark": {"type": "tick", "orient": "horizontal", "color": "#d42a2a", "opacity": 1, "size": 10, "thickness": 2.5},
          "encoding": {"x": {"field": "xc", "type": "quantitative", "axis": null}, "y": {"field": "val", "type": "quantitative", "axis": null}}
        },
        {
          "data": {"name": "rdat"},
          "mark": {"type": "rule", "color": "black", "strokeWidth": 2},
          "encoding": {"x": {"field": "xc", "type": "quantitative", "axis": null}, "y": {"field": "slo", "type": "quantitative", "axis": null}, "y2": {"field": "shi"}}
        },
        {
          "data": {"name": "rdat"},
          "mark": {"type": "point", "shape": "M0,-0.9L0.68,0.9L-0.68,0.9Z", "size": 560, "filled": true, "fill": "white", "stroke": "black", "strokeWidth": 3, "opacity": 1},
          "encoding": {"x": {"field": "xc", "type": "quantitative", "axis": null}, "y": {"field": "v", "type": "quantitative", "axis": null}}
        },
        {
          "data": {"values": [{}]},
          "mark": {"type": "text", "text": "MadGraph 4FS + Pythia6, normalized to σ", "font": "Liberation Sans", "fontSize": 22.5, "color": "#15152a", "align": "left", "baseline": "alphabetic"},
          "encoding": {"x": {"datum": 60.5, "type": "quantitative", "axis": null}, "y": {"datum": 0.778, "type": "quantitative", "axis": null}}
        },
        {
          "data": {"values": [{}]},
          "mark": {"type": "text", "text": "NLO", "font": "Liberation Sans", "fontSize": 14, "color": "#15152a", "align": "left", "baseline": "alphabetic"},
          "encoding": {"x": {"datum": 235.6, "type": "quantitative", "axis": null}, "y": {"datum": 0.728, "type": "quantitative", "axis": null}}
        }
      ]
    },
    {
      "width": 1175,
      "height": 163,
      "resolve": {"axis": {"x": "independent", "y": "independent"}},
      "layer": [
        {
          "data": {"name": "rmod"},
          "transform": [{"filter": "datum.m == 'Powheg'"}],
          "mark": {"type": "rect", "opacity": 0.5},
          "encoding": {
            "x": {"field": "x1", "type": "quantitative", "scale": {"domain": [30, 515], "nice": false, "zero": false},
                  "axis": {"orient": "bottom", "title": null, "values": [50, 100, 150, 200, 250, 300, 350, 400, 450, 500], "labels": false, "tickSize": -13}},
            "x2": {"field": "x2"},
            "y": {"field": "lo", "type": "quantitative", "scale": {"domain": [0.65, 1.35], "nice": false, "zero": false},
                  "axis": {"orient": "left", "title": null, "values": [0.8, 1, 1.2], "format": "~g", "ticks": false, "tickSize": 0, "labelPadding": 8, "labelFontSize": 23}},
            "y2": {"field": "hi"},
            "fill": {"field": "m", "type": "nominal", "legend": null}
          }
        },
        {
          "data": {"name": "rmod"},
          "transform": [{"filter": "datum.m == 'Powheg'"}],
          "mark": {"type": "rule", "strokeWidth": 2.5},
          "encoding": {
            "x": {"field": "x1", "type": "quantitative",
                  "axis": {"orient": "bottom", "title": null, "values": [40, 60, 70, 80, 90, 110, 120, 130, 140, 160, 170, 180, 190, 210, 220, 230, 240, 260, 270, 280, 290, 310, 320, 330, 340, 360, 370, 380, 390, 410, 420, 430, 440, 460, 470, 480, 490, 510], "labels": false, "tickSize": -7}},
            "x2": {"field": "x2"},
            "y": {"field": "v", "type": "quantitative", "axis": {"orient": "left", "title": null, "values": [0.8, 1, 1.2], "labels": false, "tickSize": -30}},
            "stroke": {"field": "m", "type": "nominal", "legend": null}
          }
        },
        {
          "data": {"name": "rmod"},
          "transform": [{"filter": "datum.m == 'Powheg'"}],
          "mark": {"type": "rule", "strokeWidth": 2},
          "encoding": {
            "x": {"field": "xc", "type": "quantitative",
                  "axis": {"orient": "bottom", "title": null, "values": [50, 100, 150, 200, 250, 300, 350, 400, 450, 500], "ticks": false, "tickSize": 0, "labelPadding": 8, "labelFlush": false}},
            "y": {"field": "lo", "type": "quantitative", "axis": {"orient": "left", "title": null, "values": [0.7, 0.9, 1.1, 1.3], "labels": false, "tickSize": -16}},
            "y2": {"field": "hi"},
            "stroke": {"field": "m", "type": "nominal", "legend": null}
          }
        },
        {
          "data": {"values": [{}]},
          "mark": {"type": "rule", "color": "black", "strokeWidth": 2},
          "encoding": {"y": {"datum": 1, "type": "quantitative", "axis": null}}
        },
        {
          "data": {"name": "rdat"},
          "mark": {"type": "rule", "color": "#d42a2a", "strokeWidth": 2},
          "encoding": {"x": {"field": "xc", "type": "quantitative", "axis": null}, "y": {"field": "lo", "type": "quantitative", "axis": null}, "y2": {"field": "hi"}}
        },
        {
          "data": {"name": "rdat"},
          "transform": [{"fold": ["lo", "hi"], "as": ["end", "val"]}],
          "mark": {"type": "tick", "orient": "horizontal", "color": "#d42a2a", "opacity": 1, "size": 10, "thickness": 2.5},
          "encoding": {"x": {"field": "xc", "type": "quantitative", "axis": null}, "y": {"field": "val", "type": "quantitative", "axis": null}}
        },
        {
          "data": {"name": "rdat"},
          "mark": {"type": "rule", "color": "black", "strokeWidth": 2},
          "encoding": {"x": {"field": "xc", "type": "quantitative", "axis": null}, "y": {"field": "slo", "type": "quantitative", "axis": null}, "y2": {"field": "shi"}}
        },
        {
          "data": {"name": "rdat"},
          "mark": {"type": "point", "shape": "M0,-0.9L0.68,0.9L-0.68,0.9Z", "size": 560, "filled": true, "fill": "white", "stroke": "black", "strokeWidth": 3, "opacity": 1},
          "encoding": {"x": {"field": "xc", "type": "quantitative", "axis": null}, "y": {"field": "v", "type": "quantitative", "axis": null}}
        },
        {
          "data": {"values": [{}]},
          "mark": {"type": "text", "text": "Powheg + Pythia6, normalized to σ", "font": "Liberation Sans", "fontSize": 22.5, "color": "#15152a", "align": "left", "baseline": "alphabetic"},
          "encoding": {"x": {"datum": 60.5, "type": "quantitative", "axis": null}, "y": {"datum": 0.752, "type": "quantitative", "axis": null}}
        },
        {
          "data": {"values": [{}]},
          "mark": {"type": "text", "text": "NLO", "font": "Liberation Sans", "fontSize": 14, "color": "#15152a", "align": "left", "baseline": "alphabetic"},
          "encoding": {"x": {"datum": 205.4, "type": "quantitative", "axis": null}, "y": {"datum": 0.70, "type": "quantitative", "axis": null}}
        },
        {
          "data": {"values": [{}]},
          "mark": {"type": "text", "text": "H", "font": "Liberation Sans", "fontSize": 29, "align": "right", "baseline": "alphabetic"},
          "encoding": {"x": {"datum": 476.9, "type": "quantitative", "axis": null}, "y": {"datum": 0.36, "type": "quantitative", "axis": null}}
        },
        {
          "data": {"values": [{}]},
          "mark": {"type": "text", "text": "T", "font": "Liberation Sans", "fontSize": 18, "align": "left", "baseline": "alphabetic"},
          "encoding": {"x": {"datum": 477.1, "type": "quantitative", "axis": null}, "y": {"datum": 0.33, "type": "quantitative", "axis": null}}
        },
        {
          "data": {"values": [{}]},
          "mark": {"type": "text", "text": "[GeV]", "font": "Liberation Sans", "fontSize": 29, "align": "right", "baseline": "alphabetic"},
          "encoding": {"x": {"datum": 515, "type": "quantitative", "axis": null}, "y": {"datum": 0.36, "type": "quantitative", "axis": null}}
        }
      ]
    }
  ],
  "spacing": 0,
  "bounds": "flush"
}
